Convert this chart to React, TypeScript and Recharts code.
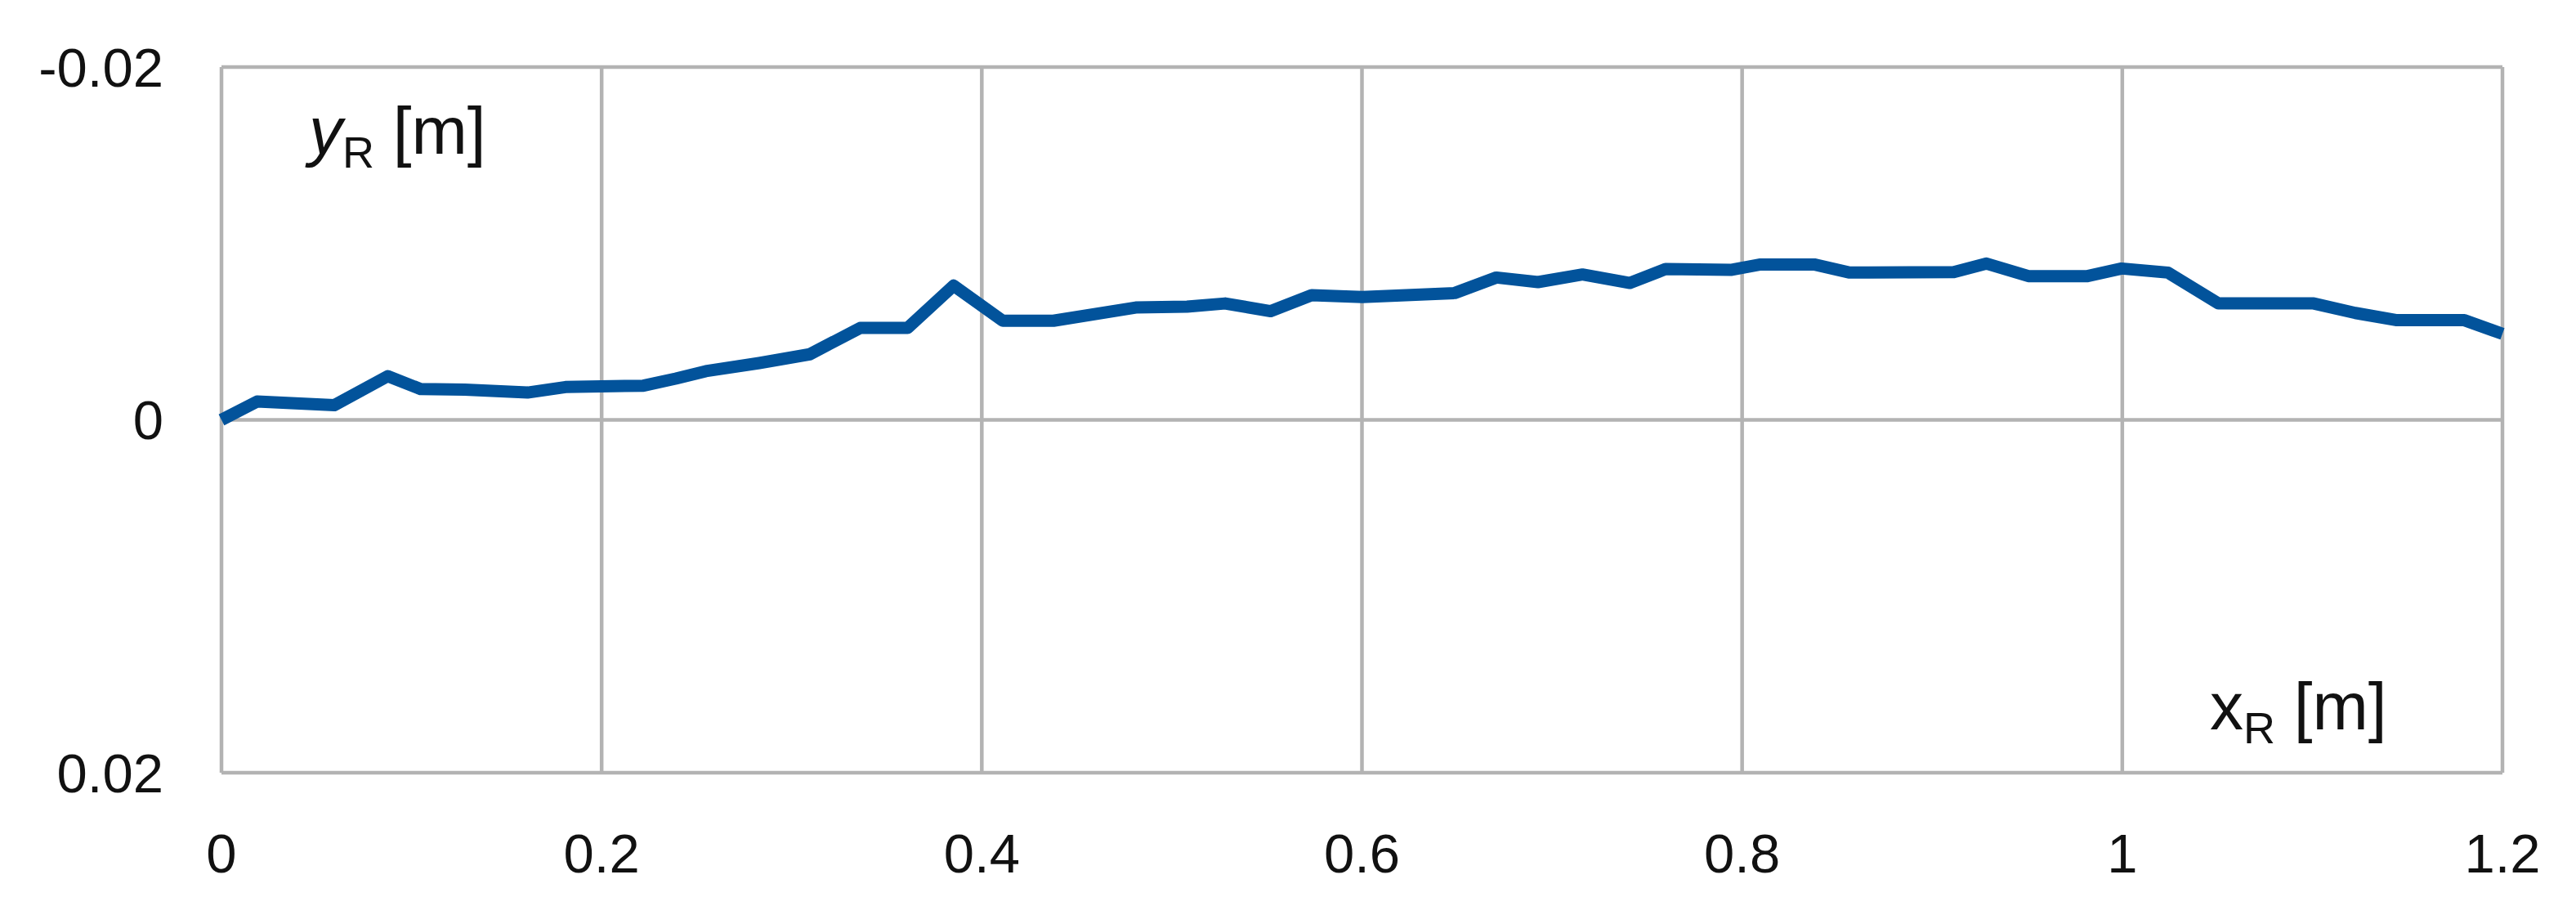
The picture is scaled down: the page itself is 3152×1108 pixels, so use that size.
import React from "react";
import {
  CartesianGrid,
  Customized,
  Line,
  LineChart,
  XAxis,
  YAxis,
} from "recharts";

// positions along the rail (x_R) and lateral offset (y_R), both in metres
const xR = [
  0, 0.0187, 0.0593, 0.0875, 0.1047, 0.128, 0.161, 0.181, 0.222, 0.239,
  0.2548, 0.2829, 0.3095, 0.336, 0.361, 0.3852, 0.411, 0.4377, 0.481, 0.508,
  0.528, 0.552, 0.5735, 0.6002, 0.6488, 0.6707, 0.6926, 0.716, 0.741, 0.7597,
  0.794, 0.8097, 0.8379, 0.8566, 0.9114, 0.9286, 0.9506, 0.9817, 0.9996, 1.024,
  1.0506, 1.1007, 1.1226, 1.1445, 1.18, 1.2,
];
const yR = [
  0, -0.00104, -0.00083, -0.00248, -0.00175, -0.00172, -0.00155, -0.00186,
  -0.00194, -0.00234, -0.00276, -0.00322, -0.00372, -0.00521, -0.00521,
  -0.00761, -0.00562, -0.00562, -0.00637, -0.00642, -0.0066, -0.00616,
  -0.00707, -0.00696, -0.00719, -0.00807, -0.00781, -0.00824, -0.00776,
  -0.00855, -0.0085, -0.00881, -0.00881, -0.00835, -0.00838, -0.00886,
  -0.00815, -0.00815, -0.00858, -0.00835, -0.0066, -0.0066, -0.00606,
  -0.00565, -0.00565, -0.00488,
];

const xTicks = [0, 0.2, 0.4, 0.6, 0.8, 1, 1.2];
const yTicks = [-0.02, 0, 0.02];

const data = xR.map((x, i) => ({ x, y: yR[i] }));

const FONT = "'Liberation Sans', Arial, sans-serif";
const GRID = "#b3b3b3";
const INK = "#111";

function AxisTitles() {
  return (
    <g fontFamily={FONT} fill={INK}>
      <text x={378} y={188} fontSize={82}>
        <tspan fontStyle="italic">y</tspan>
        <tspan fontSize={54} dy={17}>R</tspan>
        <tspan dy={-17}> [m]</tspan>
      </text>
      <text x={2704} y={892} fontSize={82}>
        <tspan>x</tspan>
        <tspan fontSize={54} dy={17}>R</tspan>
        <tspan dy={-17}> [m]</tspan>
      </text>
    </g>
  );
}

export default function App() {
  return (
    <div style={{ position: "absolute", left: 0, top: 0, background: "#fff" }}>
      <LineChart
        width={3152}
        height={1108}
        data={data}
        margin={{ top: 82, right: 90, bottom: 43, left: 0 }}
      >
        <CartesianGrid stroke={GRID} strokeWidth={4.5} />
        <XAxis
          dataKey="x"
          type="number"
          domain={[0, 1.2]}
          ticks={xTicks}
          height={120}
          axisLine={false}
          tickLine={false}
          tickSize={0}
          tickMargin={74}
          tick={{ fontFamily: FONT, fontSize: 67, fill: INK }}
        />
        <YAxis
          type="number"
          domain={[-0.02, 0.02]}
          ticks={yTicks}
          reversed
          width={271}
          axisLine={false}
          tickLine={false}
          tickSize={0}
          tickMargin={71}
          tick={{ fontFamily: FONT, fontSize: 67, fill: INK }}
        />
        <Line
          dataKey="y"
          type="linear"
          stroke="#02539b"
          strokeWidth={15}
          strokeLinejoin="round"
          dot={false}
          activeDot={false}
          isAnimationActive={false}
        />
        <Customized component={AxisTitles} />
      </LineChart>
    </div>
  );
}
